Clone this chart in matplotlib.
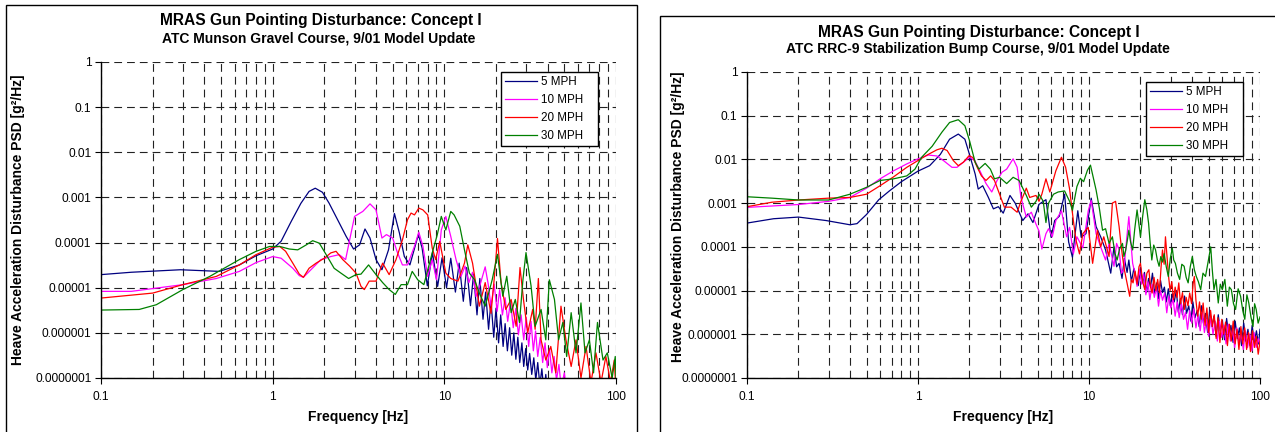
import numpy as np
import matplotlib
matplotlib.use("Agg")
import matplotlib.pyplot as plt
from matplotlib.patches import Rectangle
from matplotlib.lines import Line2D
from matplotlib.legend_handler import HandlerLine2D
from matplotlib.ticker import FixedLocator, FixedFormatter, NullFormatter

plt.rcParams["font.family"] = ["Liberation Sans", "DejaVu Sans"]

# ----------------------------
# Data (frequency [Hz], PSD [g^2/Hz])
# ----------------------------
SERIES_LABELS = ["5 MPH", "10 MPH", "20 MPH", "30 MPH"]
SERIES_COLORS = ["#000080", "#FF00FF", "#FF0000", "#008000"]

TITLE = "MRAS Gun Pointing Disturbance: Concept I"
SUBTITLE_LEFT = "ATC Munson Gravel Course, 9/01 Model Update"
SUBTITLE_RIGHT = "ATC RRC-9 Stabilization Bump Course, 9/01 Model Update"
YLABEL = "Heave Acceleration Disturbance PSD [g\u00b2/Hz]"
XLABEL = "Frequency [Hz]"

XTICKS = [0.1, 1, 10, 100]
XTICK_LABELS = ["0.1", "1", "10", "100"]
YTICKS = [1e-7, 1e-6, 1e-5, 1e-4, 1e-3, 1e-2, 1e-1, 1]
YTICK_LABELS = ["0.0000001", "0.000001", "0.00001", "0.0001",
                "0.001", "0.01", "0.1", "1"]

# Munson gravel course
munson_5 = [
    (0.1, 1.95e-5), (0.15, 2.2e-5), (0.29, 2.5e-5), (0.49, 2.3e-5), (0.64, 3.2e-5),
    (0.8, 5.1e-5), (1.0, 7.2e-5), (1.12, 1.07e-4), (1.28, 2.9e-4), (1.46, 7.4e-4),
    (1.63, 1.36e-3), (1.77, 1.6e-3), (1.95, 1.3e-3), (2.13, 7.5e-4), (2.39, 3.2e-4),
    (2.68, 1.37e-4), (2.96, 7.2e-5), (3.21, 8.9e-5), (3.45, 2.0e-4), (3.69, 1.26e-4),
    (4.0, 4.2e-5), (4.33, 2.5e-5), (4.73, 6.9e-5), (5.12, 4.4e-4), (5.48, 1.6e-4),
    (5.85, 4.9e-5), (6.3, 3.2e-5), (7.06, 1.5e-4), (7.42, 7.6e-5), (7.96, 1.1e-5),
    (8.53, 6.0e-5), (9.14, 1.07e-5), (9.7, 4.6e-5), (10.3, 1.0e-5), (10.9, 4.5e-5),
    (11.6, 8e-6), (12.2, 3.5e-5), (12.9, 5e-6), (13.5, 2.8e-5), (14.2, 4e-6),
    (14.8, 2.0e-5), (15.5, 2.5e-6), (16.1, 1.6e-5), (16.8, 2e-6), (17.4, 8e-6),
    (18.1, 1.2e-6), (18.7, 5e-6), (19.4, 8e-7), (20.0, 3.5e-6), (20.7, 6e-7),
    (21.3, 2.5e-6), (22.0, 5e-7), (22.6, 1.6e-6), (23.3, 4e-7), (24.0, 1.3e-6),
    (24.7, 3.2e-7), (25.4, 1.0e-6), (26.1, 2.6e-7), (26.8, 8e-7), (27.5, 2.2e-7),
    (28.3, 6e-7), (29.0, 1.8e-7), (29.8, 4.5e-7), (30.6, 1.5e-7), (31.4, 3.5e-7),
    (32.3, 1.2e-7), (33.2, 2.8e-7), (34.1, 9e-8), (35.0, 2.2e-7), (36.0, 7e-8),
    (37.0, 1.6e-7), (38.0, 5e-8), (39.0, 1.2e-7), (40.0, 4e-8), (42.0, 8e-8),
    (45.0, 2e-8), (100.0, 1e-9),
]
munson_10 = [
    (0.1, 8.3e-6), (0.15, 8.3e-6), (0.3, 1.17e-5), (0.47, 1.6e-5), (0.64, 2.3e-5),
    (0.8, 3.6e-5), (1.0, 4.9e-5), (1.12, 4.5e-5), (1.31, 2.7e-5), (1.43, 1.85e-5),
    (1.51, 1.7e-5), (1.67, 2.5e-5), (1.91, 4.2e-5), (2.18, 4.9e-5), (2.44, 5.4e-5),
    (2.66, 4.2e-5), (2.81, 1.16e-4), (3.0, 3.8e-4), (3.35, 4.9e-4), (3.69, 7.2e-4),
    (4.0, 5.3e-4), (4.33, 1.26e-4), (4.6, 1.5e-4), (5.0, 1.26e-4), (5.3, 6.4e-5),
    (5.7, 3.2e-5), (6.1, 3.2e-5), (6.7, 8.3e-5), (7.1, 1.7e-4), (7.5, 8.3e-5),
    (8.0, 1.78e-5), (8.5, 4.2e-5), (9.0, 1.5e-5), (9.6, 1.9e-4), (10.2, 3.8e-4),
    (10.9, 1.37e-4), (11.7, 4.2e-5), (12.5, 1.78e-5), (13.2, 3e-5), (13.9, 1.3e-5),
    (14.6, 2.2e-5), (15.3, 6.4e-6), (16.2, 1.2e-5), (17.3, 2.9e-5), (18.0, 1.2e-5),
    (18.7, 3.9e-6), (19.5, 1.2e-5), (20.3, 3e-6), (21.0, 9e-6), (21.8, 2.5e-6),
    (22.6, 6e-6), (23.4, 1.8e-6), (24.3, 5e-6), (25.2, 1.3e-6), (26.1, 3.5e-6),
    (27.0, 9e-7), (28.0, 2.5e-6), (29.0, 7e-7), (30.0, 2.2e-6), (31.0, 5e-7),
    (32.0, 1.8e-6), (33.0, 4e-7), (34.0, 1.1e-6), (35.0, 3e-7), (36.2, 8e-7),
    (37.4, 2.2e-7), (38.6, 6e-7), (39.8, 1.7e-7), (41.0, 4.5e-7), (42.3, 1.3e-7),
    (43.6, 3e-7), (45.0, 9e-8), (46.5, 2e-7), (48.0, 6e-8), (50.0, 1.3e-7),
    (52.0, 4e-8), (60.0, 1e-8), (100.0, 1e-9),
]
munson_20 = [
    (0.1, 5.9e-6), (0.2, 7.6e-6), (0.3, 1.17e-5), (0.47, 1.78e-5), (0.64, 3.2e-5),
    (0.8, 5.4e-5), (1.0, 7.9e-5), (1.1, 8.2e-5), (1.19, 6.4e-5), (1.31, 3.5e-5),
    (1.43, 2.0e-5), (1.51, 1.7e-5), (1.63, 2.7e-5), (1.79, 3.5e-5), (2.0, 4.5e-5),
    (2.18, 5.9e-5), (2.34, 6.4e-5), (2.56, 4.2e-5), (2.81, 3.0e-5), (3.06, 2.1e-5),
    (3.27, 1.07e-5), (3.42, 9.1e-6), (3.65, 1.4e-5), (4.0, 1.4e-5), (4.37, 3.5e-5),
    (4.77, 1.95e-5), (5.23, 4.2e-5), (5.7, 1.15e-4), (6.1, 3.2e-4), (6.4, 4.5e-4),
    (6.7, 4.1e-4), (7.1, 5.8e-4), (7.5, 5.3e-4), (8.0, 4.1e-4), (8.5, 7.6e-5),
    (8.9, 4.2e-5), (9.4, 1.06e-4), (10.2, 2.1e-5), (10.9, 1.6e-5), (12.0, 1.4e-5),
    (13.1, 3.5e-5), (13.7, 8.9e-5), (14.6, 3.5e-5), (16.0, 3.9e-6), (17.3, 1.3e-5),
    (18.7, 2.7e-6), (19.5, 1.5e-5), (20.4, 1.23e-4), (21.4, 1.3e-5), (22.8, 3.3e-6),
    (24.5, 5.5e-6), (26.2, 1.4e-6), (27.6, 2.8e-5), (28.9, 5.5e-6), (30.6, 1.0e-6),
    (32.7, 3.3e-6), (33.8, 1.2e-6), (35.3, 1.6e-5), (36.6, 7e-7), (39.0, 2.5e-7),
    (41.7, 5e-7), (44.6, 1.3e-7), (47.8, 3.9e-6), (51.1, 7e-7), (54.8, 1.8e-7),
    (58.5, 7e-7), (62.5, 1e-7), (66.9, 5e-7), (71.5, 8e-8), (76.4, 3.6e-7),
    (81.8, 8e-8), (87.3, 3e-7), (93.0, 8e-8), (97.7, 2.5e-7), (100.0, 5e-8),
]
munson_30 = [
    (0.1, 3.2e-6), (0.167, 3.3e-6), (0.21, 4.2e-6), (0.3, 9.1e-6), (0.43, 1.78e-5),
    (0.64, 4.2e-5), (0.8, 6.4e-5), (0.96, 8.2e-5), (1.1, 8.2e-5), (1.25, 7.2e-5),
    (1.4, 6.9e-5), (1.57, 8.9e-5), (1.71, 1.1e-4), (1.87, 9.7e-5), (2.05, 5.4e-5),
    (2.28, 2.7e-5), (2.5, 2.1e-5), (2.77, 1.6e-5), (3.06, 1.95e-5), (3.27, 2.0e-5),
    (3.62, 3.2e-5), (4.0, 1.95e-5), (4.37, 1.3e-5), (4.77, 9.1e-6), (5.18, 7.1e-6),
    (5.6, 1.17e-5), (6.1, 1.17e-5), (6.5, 2.3e-5), (7.0, 1.5e-5), (7.6, 1.17e-5),
    (8.5, 5.9e-5), (9.1, 1.5e-4), (9.6, 3.8e-4), (10.2, 1.9e-4), (10.9, 4.9e-4),
    (11.4, 4.1e-4), (12.3, 2.3e-4), (13.1, 6.9e-5), (14.0, 2.1e-5), (15.0, 1.5e-5),
    (16.0, 7.6e-6), (17.3, 3.9e-6), (19.0, 1.5e-5), (20.4, 5.5e-5), (21.9, 6.5e-6),
    (23.1, 1.8e-5), (24.5, 2.8e-6), (25.9, 5.5e-6), (27.4, 1.7e-6), (28.7, 1.5e-5),
    (29.9, 6e-5), (32.0, 1.1e-5), (33.8, 1.4e-6), (36.6, 3.3e-6), (39.0, 7e-7),
    (40.9, 1.5e-5), (43.8, 5.5e-6), (46.3, 7e-7), (49.0, 1.7e-6), (51.6, 3e-7),
    (54.8, 2.8e-6), (58.5, 3.6e-7), (62.5, 4.6e-6), (66.0, 3.6e-7), (70.0, 7e-7),
    (74.0, 1.3e-7), (78.0, 1.7e-6), (84.0, 2.5e-7), (89.0, 3.6e-7), (95.0, 1e-7),
    (99.0, 3e-7), (100.0, 1e-7),
]

# RRC-9 stabilization bump course
rrc9_5 = [
    (0.1, 3.5e-4), (0.143, 4.4e-4), (0.2, 4.8e-4), (0.29, 4.0e-4), (0.4, 3.2e-4),
    (0.44, 3.4e-4), (0.5, 5.5e-4), (0.59, 1.2e-3), (0.68, 1.9e-3), (0.8, 3.1e-3),
    (1.0, 5.4e-3), (1.17, 7.2e-3), (1.35, 1.3e-2), (1.53, 2.9e-2), (1.72, 3.8e-2),
    (1.88, 2.9e-2), (2.0, 1.3e-2), (2.16, 4.6e-3), (2.25, 2.1e-3), (2.39, 2.5e-3),
    (2.58, 1.35e-3), (2.76, 7.4e-4), (2.95, 8.3e-4), (3.15, 5.9e-4), (3.45, 1.5e-3),
    (3.7, 1.0e-3), (4.1, 4.0e-4), (4.4, 5.7e-4), (4.7, 3.6e-4), (5.1, 9.4e-4),
    (5.6, 1.2e-3), (6.0, 1.66e-4), (6.3, 4e-4), (6.7, 5e-4), (7.2, 1.6e-3),
    (7.6, 1.3e-4), (8.0, 5.8e-5), (8.6, 6.7e-4), (9.0, 1.66e-4), (9.6, 2e-4),
    (10.3, 1.3e-3), (11.0, 2.9e-4), (11.7, 1.7e-4), (12.5, 8.5e-5), (13.4, 2.5e-5),
    (14.0, 1e-4), (14.5, 3.5e-5), (15.0, 4.2e-5), (15.6, 1.9e-5), (16.1, 5.5e-5),
    (16.7, 2.6e-5), (17.1, 5e-5), (17.7, 1.6e-5), (18.3, 3.2e-5), (18.8, 2.0e-5),
    (19.4, 1.3e-5), (20.0, 3.4e-5), (20.6, 1.5e-5), (21.1, 2.6e-5), (21.7, 9e-6),
    (22.3, 1.9e-5), (22.9, 1.2e-5), (23.5, 2.5e-5), (24.2, 8.5e-6), (24.9, 1.5e-5),
    (25.5, 6.5e-6), (26.2, 1.7e-5), (26.9, 9e-6), (27.6, 1.2e-5), (28.3, 5.5e-6),
    (29.1, 1.1e-5), (29.9, 4.5e-6), (30.7, 8.5e-6), (31.5, 5.5e-6), (32.4, 1.0e-5),
    (33.3, 3.2e-6), (34.2, 6.5e-6), (35.2, 2.8e-6), (36.2, 7.5e-6), (37.2, 3.0e-6),
    (38.3, 4.5e-6), (39.4, 2.0e-6), (40.5, 5.5e-6), (41.7, 2.4e-6), (42.9, 3.5e-6),
    (44.1, 1.5e-6), (45.4, 4.5e-6), (46.7, 1.8e-6), (48.0, 3.0e-6), (49.4, 1.1e-6),
    (50.8, 3.6e-6), (52.3, 1.5e-6), (53.8, 2.6e-6), (55.4, 9e-7), (57.0, 2.8e-6),
    (58.6, 1.2e-6), (60.3, 2.0e-6), (62.0, 7.5e-7), (63.8, 2.3e-6), (65.7, 9e-7),
    (67.6, 1.6e-6), (69.6, 6.5e-7), (71.6, 2.0e-6), (73.7, 8e-7), (75.8, 1.4e-6),
    (78.0, 5.5e-7), (80.3, 1.8e-6), (82.6, 7e-7), (85.0, 1.3e-6), (87.5, 5.5e-7),
    (90.0, 1.6e-6), (92.6, 6.5e-7), (95.3, 1.2e-6), (98.0, 6e-7), (100.0, 1.3e-6),
]
rrc9_10 = [
    (0.1, 8.0e-4), (0.2, 9.3e-4), (0.3, 1.1e-3), (0.4, 1.35e-3), (0.5, 2.2e-3),
    (0.6, 3.6e-3), (0.72, 5.5e-3), (0.86, 7.9e-3), (1.0, 1.03e-2), (1.15, 1.26e-2),
    (1.29, 1.2e-2), (1.41, 9.4e-3), (1.58, 6.6e-3), (1.69, 6.6e-3), (1.84, 8.6e-3),
    (2.0, 1.12e-2), (2.15, 9.4e-3), (2.3, 5.5e-3), (2.5, 2.8e-3), (2.7, 1.8e-3),
    (2.9, 3.3e-3), (3.1, 5.1e-3), (3.3, 6e-3), (3.6, 1.03e-2), (3.8, 6.6e-3),
    (4.0, 1.35e-3), (4.3, 4.8e-4), (4.6, 6.2e-4), (4.9, 3.3e-4), (5.1, 2.3e-4),
    (5.3, 8.9e-5), (5.6, 2e-4), (5.8, 2.6e-4), (6.1, 1.7e-4), (6.4, 4e-4),
    (6.9, 6.7e-4), (7.4, 1.7e-4), (7.7, 2.8e-4), (8.1, 6.9e-5), (8.5, 1.7e-4),
    (9.2, 9.5e-5), (9.9, 6.7e-4), (10.3, 1.15e-3), (11.0, 2e-4), (11.7, 1e-4),
    (12.5, 5e-5), (13.1, 1.2e-4), (14.0, 3.6e-5), (14.5, 1.2e-4), (15.0, 8.5e-5),
    (15.5, 2.5e-5), (16.0, 3e-5), (16.6, 1.5e-4), (17.1, 4.9e-4), (17.6, 1.2e-4),
    (18.0, 4.2e-5), (18.6, 2.4e-5), (19.1, 1.25e-5), (19.7, 3.0e-5), (20.3, 1.4e-5),
    (20.9, 2.4e-5), (21.5, 8e-6), (22.1, 1.6e-5), (22.7, 6.2e-6), (23.4, 1.4e-5),
    (24.1, 7e-6), (24.8, 1.2e-5), (25.5, 4.4e-6), (26.2, 1.0e-5), (26.9, 6e-6),
    (27.7, 8.8e-6), (28.5, 3.1e-6), (29.3, 7.5e-6), (30.1, 4e-6), (31.0, 6.5e-6),
    (31.9, 2.6e-6), (32.8, 5.5e-6), (33.7, 2.4e-6), (34.7, 5e-6), (35.7, 2.2e-6),
    (36.7, 3.2e-6), (37.7, 1.3e-6), (38.8, 3.5e-6), (39.9, 1.8e-6), (41.0, 3.8e-6),
    (42.2, 1.4e-6), (43.4, 2.8e-6), (44.7, 1.2e-6), (46.0, 3.2e-6), (47.3, 1.1e-6),
    (48.7, 2.2e-6), (50.1, 9e-7), (51.6, 2.6e-6), (53.1, 1.0e-6), (54.7, 2.0e-6),
    (56.3, 7e-7), (58.0, 2.0e-6), (59.7, 8.5e-7), (61.5, 1.6e-6), (63.3, 6e-7),
    (65.2, 1.7e-6), (67.1, 7e-7), (69.1, 1.3e-6), (71.1, 5e-7), (73.2, 1.4e-6),
    (75.4, 6e-7), (77.6, 1.1e-6), (79.9, 4.5e-7), (82.2, 1.2e-6), (84.6, 5e-7),
    (87.1, 1.0e-6), (89.7, 4.2e-7), (92.3, 1.1e-6), (95.0, 5e-7), (97.8, 8e-7),
    (100.0, 5.3e-7),
]
rrc9_20 = [
    (0.1, 8.3e-4), (0.14, 1.05e-3), (0.2, 1.18e-3), (0.3, 1.3e-3), (0.4, 1.35e-3),
    (0.5, 1.6e-3), (0.6, 2.5e-3), (0.72, 4.0e-3), (0.86, 6.6e-3), (1.0, 9.4e-3),
    (1.13, 1.26e-2), (1.29, 1.66e-2), (1.38, 1.8e-2), (1.48, 1.6e-2), (1.61, 9.4e-3),
    (1.72, 7.2e-3), (1.84, 8.6e-3), (1.99, 1.22e-2), (2.1, 1.1e-2), (2.22, 6.6e-3),
    (2.35, 4.2e-3), (2.5, 3.3e-3), (2.66, 4.2e-3), (2.8, 3.3e-3), (3.0, 1.6e-3),
    (3.2, 8.1e-4), (3.5, 8.1e-4), (3.8, 6.2e-4), (4.0, 1.1e-3), (4.3, 2.2e-3),
    (4.5, 1.35e-3), (4.9, 1.5e-3), (5.1, 1.1e-3), (5.3, 1.6e-3), (5.6, 3.6e-3),
    (5.9, 1.8e-3), (6.4, 5.5e-3), (6.9, 1.12e-2), (7.3, 6.6e-3), (7.7, 2.1e-3),
    (8.1, 4e-4), (8.4, 1.4e-4), (8.8, 6.9e-5), (9.2, 2e-4), (9.9, 2.8e-4),
    (10.5, 4.2e-5), (11.2, 2.4e-4), (11.7, 1e-4), (12.2, 1.7e-4), (13.1, 6e-5),
    (13.7, 1e-3), (14.3, 1.1e-3), (15.0, 2.9e-4), (15.4, 1.1e-4), (15.7, 6e-5),
    (16.1, 3.0e-5), (16.4, 2.1e-5), (16.9, 1.2e-5), (17.3, 7.4e-6), (17.7, 1.8e-5),
    (18.1, 1.5e-5), (18.6, 2.8e-5), (19.1, 1.4e-5), (19.6, 3.5e-5), (20.0, 4.2e-5),
    (20.6, 1.6e-5), (21.2, 1.05e-5), (21.8, 2.5e-5), (22.4, 3e-5), (22.9, 1.2e-5),
    (23.4, 8.8e-6), (24.0, 2.0e-5), (24.6, 1.0e-5), (25.2, 1.8e-5), (25.8, 9e-6),
    (26.4, 3.5e-5), (26.9, 8.5e-5), (27.5, 4e-5), (28.0, 1.7e-4), (28.6, 6e-5),
    (29.2, 2.1e-5), (29.8, 1.0e-5), (30.5, 1.6e-5), (31.2, 6.2e-6), (31.9, 1.2e-5),
    (32.7, 7e-6), (33.5, 1.5e-5), (34.3, 5e-6), (35.2, 9e-6), (36.1, 3.7e-6),
    (37.0, 7e-6), (37.9, 4.5e-6), (38.8, 8.8e-6), (39.8, 5e-6), (40.6, 1.4e-5),
    (41.3, 2.1e-5), (42.2, 6e-6), (43.2, 2.6e-6), (44.3, 5.5e-6), (45.4, 2.2e-6),
    (46.5, 5.2e-6), (47.7, 1.6e-6), (48.9, 4e-6), (50.1, 1.1e-6), (51.4, 3.5e-6),
    (52.7, 1.5e-6), (54.0, 2.8e-6), (55.4, 8e-7), (56.8, 2.4e-6), (58.3, 6.5e-7),
    (59.8, 2.2e-6), (61.3, 1.0e-6), (62.9, 1.9e-6), (64.5, 5.5e-7), (66.2, 1.7e-6),
    (67.9, 7e-7), (69.7, 2.0e-6), (71.5, 6e-7), (73.4, 1.3e-6), (75.3, 4.5e-7),
    (77.3, 1.5e-6), (79.3, 6e-7), (81.4, 1.4e-6), (83.5, 4.5e-7), (85.7, 1.1e-6),
    (88.0, 4e-7), (90.3, 1.2e-6), (92.7, 5e-7), (95.1, 9e-7), (97.6, 3.5e-7),
    (100.0, 7e-7),
]
rrc9_30 = [
    (0.1, 1.4e-3), (0.14, 1.3e-3), (0.2, 1.18e-3), (0.3, 1.18e-3), (0.4, 1.6e-3),
    (0.5, 2.3e-3), (0.6, 3.3e-3), (0.72, 3.6e-3), (0.86, 4.2e-3), (0.96, 6e-3),
    (1.05, 1.12e-2), (1.21, 2.0e-2), (1.38, 4.2e-2), (1.53, 7.0e-2), (1.72, 8.1e-2),
    (1.88, 5.9e-2), (2.0, 2.7e-2), (2.16, 8.6e-3), (2.27, 6e-3), (2.47, 8.1e-3),
    (2.65, 6e-3), (2.8, 3.6e-3), (3.0, 3.9e-3), (3.3, 2.8e-3), (3.6, 3.9e-3),
    (3.9, 3.3e-3), (4.1, 2.2e-3), (4.3, 1.5e-3), (4.6, 8.1e-4), (4.9, 1.1e-3),
    (5.1, 1.6e-3), (5.4, 1.1e-3), (5.6, 3.6e-4), (5.8, 1e-3), (6.2, 1.6e-3),
    (6.6, 1.8e-3), (7.2, 1.9e-3), (7.7, 1.1e-3), (8.0, 6.9e-4), (8.5, 2.4e-3),
    (8.9, 3.7e-3), (9.3, 3.1e-3), (9.8, 5.7e-3), (10.2, 7.4e-3), (11.0, 2e-3),
    (11.5, 7.6e-4), (12.0, 2.4e-4), (12.5, 2.6e-4), (13.1, 1.2e-4), (13.7, 1.7e-4),
    (14.2, 7e-5), (14.6, 5e-5), (15.1, 9e-5), (15.7, 1.2e-4), (16.0, 6e-5),
    (16.4, 8.5e-5), (16.8, 1.5e-4), (17.1, 2.4e-4), (17.5, 1.3e-4), (18.0, 8.5e-5),
    (18.5, 2.5e-4), (19.1, 7e-4), (19.6, 3.2e-4), (20.0, 1.7e-4), (20.6, 5e-4),
    (21.2, 1.2e-3), (21.8, 7e-4), (22.3, 3.5e-4), (22.8, 1.2e-4), (23.3, 5e-5),
    (23.9, 1.1e-4), (24.5, 8.5e-5), (25.1, 5e-5), (25.7, 3.6e-5), (26.3, 6e-5),
    (26.9, 4.5e-5), (27.5, 7e-5), (28.3, 3.5e-5), (29.1, 2.1e-5), (29.9, 5.5e-5),
    (30.7, 9.3e-5), (31.3, 5e-5), (32.0, 4.2e-5), (32.9, 2.5e-5), (33.9, 1.8e-5),
    (34.9, 4e-5), (36.0, 3.6e-5), (37.0, 2e-5), (38.0, 1.5e-5), (39.1, 3.5e-5),
    (40.2, 6e-5), (41.3, 3e-5), (42.4, 2.1e-5), (43.6, 1.6e-5), (45.0, 1.05e-5),
    (46.4, 2.5e-5), (48.0, 2.1e-5), (49.7, 4.5e-5), (51.5, 1e-4), (52.6, 3e-5),
    (53.8, 1.05e-5), (55.3, 1.8e-5), (57.0, 5.2e-6), (58.6, 1.4e-5), (60.2, 1.05e-5),
    (62.3, 1.8e-5), (64.4, 4.4e-6), (66.2, 1.2e-5), (68.0, 1.05e-5), (70.0, 5e-6),
    (72.0, 3.7e-6), (74.5, 1.1e-5), (77.0, 7.4e-6), (79.3, 3.5e-6), (81.5, 2.2e-6),
    (83.8, 8e-6), (86.0, 5.2e-6), (88.5, 2.5e-6), (91.0, 1.5e-6), (93.0, 5e-6),
    (95.0, 3.7e-6), (97.5, 1.8e-6), (100.0, 2.5e-6),
]

W, H = 1275, 432


def fx(px):
    return px / W


def fy(py):
    return 1 - py / H


def draw_panel(ax, curves, legend_box):
    for pts, lab, col in zip(curves, SERIES_LABELS, SERIES_COLORS):
        f, v = np.array(pts).T
        ax.plot(f, v, color=col, lw=0.9, label=lab)

    ax.set_xscale("log")
    ax.set_yscale("log")
    ax.set_xlim(0.1, 100)
    ax.set_ylim(1e-7, 1)

    ax.xaxis.set_major_locator(FixedLocator(XTICKS))
    ax.xaxis.set_major_formatter(FixedFormatter(XTICK_LABELS))
    minors = [m * d for d in (0.1, 1, 10) for m in range(2, 10)]
    ax.xaxis.set_minor_locator(FixedLocator(minors))
    ax.xaxis.set_minor_formatter(NullFormatter())
    ax.yaxis.set_major_locator(FixedLocator(YTICKS))
    ax.yaxis.set_major_formatter(FixedFormatter(YTICK_LABELS))
    ax.yaxis.set_minor_locator(FixedLocator([]))

    ax.set_axisbelow(True)
    dash = (0, (7, 4.5))
    ax.grid(True, which="major", axis="y", color="#222222", lw=0.8, ls=dash)
    ax.grid(True, which="both", axis="x", color="#222222", lw=0.8, ls=dash)

    for s in ("top", "right"):
        ax.spines[s].set_visible(False)
    for s in ("left", "bottom"):
        ax.spines[s].set_linewidth(1.0)
        ax.spines[s].set_color("black")

    ax.tick_params(which="major", direction="out", length=4, width=0.8,
                   labelsize=8.6, pad=3)
    ax.tick_params(axis="x", which="major", pad=5)
    ax.tick_params(which="minor", length=0)

    leg = ax.legend(loc="upper left", bbox_to_anchor=legend_box, mode="expand",
                    fontsize=8.4, frameon=True, fancybox=False, framealpha=1,
                    edgecolor="black", handlelength=2.75, labelspacing=0.52,
                    borderpad=0.32, handletextpad=0.35, borderaxespad=0,
                    handler_map={Line2D: HandlerLine2D(marker_pad=0.6)})
    leg.get_frame().set_linewidth(1.0)


fig = plt.figure(figsize=(W / 100, H / 100), dpi=100)

# panel boxes
fig.patches.append(Rectangle((fx(6), fy(440)), fx(631), fy(5) - fy(440),
                             transform=fig.transFigure, fill=False,
                             edgecolor="black", lw=1.0))
fig.patches.append(Rectangle((fx(660), fy(440)), fx(640), fy(16) - fy(440),
                             transform=fig.transFigure, fill=False,
                             edgecolor="black", lw=1.0))

# left panel
ax1 = fig.add_axes([fx(101), fy(378), fx(515), fy(62) - fy(378)])
draw_panel(ax1, [munson_5, munson_10, munson_20, munson_30],
           (0.777, 0.0, 0.188, 0.968))
fig.text(fx(321), fy(21), TITLE, ha="center", va="center",
         fontsize=11.2, fontweight="bold")
fig.text(fx(319), fy(39), SUBTITLE_LEFT, ha="center", va="center",
         fontsize=10, fontweight="bold")
fig.text(fx(18), fy(220), YLABEL, rotation=90, ha="center", va="center",
         fontsize=10, fontweight="bold")
fig.text(fx(358), fy(417), XLABEL, ha="center", va="center",
         fontsize=10, fontweight="bold")

# right panel
ax2 = fig.add_axes([fx(747), fy(378), fx(513), fy(72) - fy(378)])
draw_panel(ax2, [rrc9_5, rrc9_10, rrc9_20, rrc9_30],
           (0.778, 0.0, 0.189, 0.967))
fig.text(fx(979), fy(32), TITLE, ha="center", va="center",
         fontsize=11.2, fontweight="bold")
fig.text(fx(978), fy(49), SUBTITLE_RIGHT, ha="center", va="center",
         fontsize=10, fontweight="bold")
fig.text(fx(678), fy(217), YLABEL, rotation=90, ha="center", va="center",
         fontsize=10, fontweight="bold")
fig.text(fx(1003), fy(417), XLABEL, ha="center", va="center",
         fontsize=10, fontweight="bold")

fig.savefig("out.png", dpi=100)
